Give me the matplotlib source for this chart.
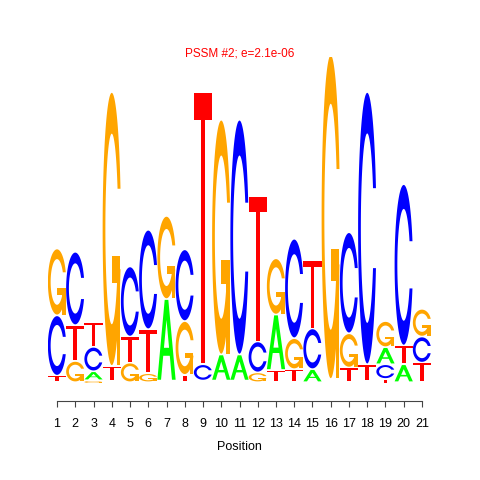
import numpy as np
import matplotlib
matplotlib.use("Agg")
import matplotlib.pyplot as plt
from matplotlib.patches import Polygon

plt.rcParams["font.family"] = ["Liberation Sans", "DejaVu Sans"]

# %% data: drawn letter heights (bits) per position
positions = list(range(1, 22))
height_A = [0, 0, 0.045, 0, 0, 0, 0.49, 0, 0, 0.15, 0.15, 0, 0.33, 0, 0.07, 0, 0, 0, 0.095, 0.10, 0]
height_C = [0.36, 0.44, 0.14, 0, 0.42, 0.60, 0, 0.43, 0.09, 0, 1.43, 0.18, 0, 0.60, 0.24, 0, 0.61, 1.66, 0.08, 0.98, 0.15]
height_G = [0.40, 0.12, 0.012, 1.67, 0.11, 0.045, 0.50, 0.32, 0, 1.43, 0, 0.05, 0.335, 0.18, 0, 1.98, 0.20, 0, 0.15, 0, 0.16]
height_T = [0.03, 0.21, 0.14, 0.08, 0.15, 0.26, 0, 0.035, 1.66, 0, 0, 0.88, 0.065, 0.07, 0.41, 0, 0.08, 0.09, 0.02, 0.105, 0.11]
letters = ["A", "C", "G", "T"]
title = "PSSM #2; e=2.1e-06"


# %% letter shapes (unit box), seqLogo style
def c_shape():
    a1 = np.linspace(0.3 + np.pi / 2, np.pi, 100)
    a2 = np.linspace(np.pi, 1.5 * np.pi, 100)
    xl = np.concatenate([0.5 + 0.5 * np.sin(a1), 0.5 + 0.5 * np.sin(a2)])
    yl1 = 0.5 + 0.5 * np.cos(a1)
    yl = np.concatenate([yl1, 0.5 + 0.5 * np.cos(a2)])
    x = np.concatenate([xl, xl[::-1]])
    y = np.concatenate([yl, 1 - yl[::-1]])
    xi1 = 0.5 + 0.35 * np.sin(a1)
    yi1 = 0.5 + 0.35 * np.cos(a1)
    keep = yi1 <= yl1.max()
    xi1, yi1 = xi1[keep], yi1[keep]
    yi1[0] = yl1.max()
    xi = np.concatenate([xi1, 0.5 + 0.35 * np.sin(a2)])
    yi = np.concatenate([yi1, 0.5 + 0.35 * np.cos(a2)])
    x1 = np.concatenate([xi, xi[::-1]])
    y1 = np.concatenate([yi, 1 - yi[::-1]])
    x = np.concatenate([x, x1[::-1]])
    y = np.concatenate([y, y1[::-1]])
    return x, y, xl.max()


def letter_polys(letter):
    # list of (xs, ys, colour)
    if letter == "A":
        x = np.array([0, 4, 6, 10, 8, 6.8, 3.2, 2, 0]) * 0.1
        y = np.array([0, 10, 10, 0, 0, 3, 3, 0, 0]) * 0.1
        hx = np.array([3.6, 5, 6.4, 3.6]) * 0.1
        hy = np.array([4, 7.5, 4, 4]) * 0.1
        return [(x, y, "#00FF00"), (hx, hy, "white")]
    if letter == "T":
        x = np.array([0, 10, 10, 6, 6, 4, 4, 0]) * 0.1
        y = np.array([10, 10, 9, 9, 0, 0, 9, 9]) * 0.1
        return [(x, y, "#FF0000")]
    x, y, r1 = c_shape()
    if letter == "C":
        return [(x, y, "#0000FF")]
    h1 = 0.4
    bx = np.array([r1, 0.5, 0.5, r1 - 0.2, r1 - 0.2, r1, r1])
    by = np.array([h1, h1, h1 - 0.1, h1 - 0.1, 0, 0, h1])
    return [(x, y, "#FFA500"), (bx, by, "#FFA500")]


# %% figure
fig = plt.figure(figsize=(4.8, 4.8), dpi=100)
ax = fig.add_axes([47.9 / 480, 79 / 480, 383.2 / 480, 344 / 480])

heights = np.array([height_A, height_C, height_G, height_T])
for j, pos in enumerate(positions):
    col = heights[:, j]
    ypos = 0.0
    for k in np.argsort(col, kind="stable"):
        ht = col[k]
        if ht > 0:
            for xs, ys, colour in letter_polys(letters[k]):
                ax.add_patch(Polygon(np.column_stack([pos - 0.5 + xs, ypos + ht * ys]),
                                     closed=True, facecolor=colour, edgecolor="none"))
        ypos += ht + 0.01

ax.set_xlim(0.5, 21.5)
ax.set_ylim(-0.1104, 2.0)
for side in ["top", "right", "left"]:
    ax.spines[side].set_visible(False)
ax.spines["bottom"].set_bounds(1, 21)
ax.spines["bottom"].set_color("#444444")
ax.spines["bottom"].set_linewidth(0.8)
ax.set_yticks([])
ax.set_xticks(positions)
ax.tick_params(axis="x", length=4.3, width=0.8, color="#444444", pad=8, labelsize=9)
ax.set_xlabel("Position", fontsize=9, labelpad=7.5)

fig.text(240 / 480, 1 - 53 / 480, title, color="#FF0000", fontsize=8.5, ha="center", va="center")

fig.savefig("out.png", dpi=100)
